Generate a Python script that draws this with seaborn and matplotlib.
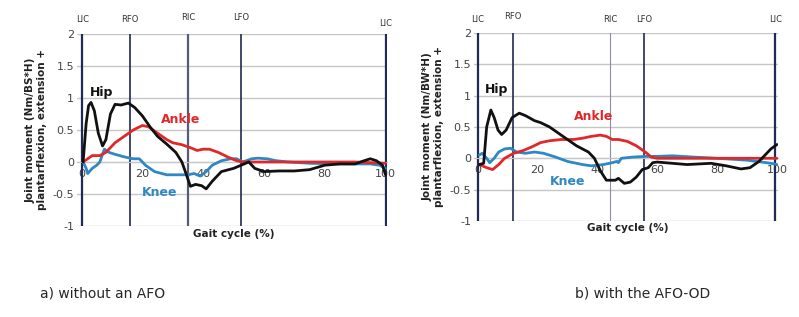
import numpy as np
import pandas as pd
import seaborn as sns
import matplotlib.pyplot as plt

sns.set_style("white")
plt.rcParams['font.family'] = ['DejaVu Sans']

# a) without an AFO
a_hip_x = [0.5, 1.5, 2.3, 3.1, 4.2, 5.5, 6.9, 8.0, 9.5, 11, 13, 15.4, 17.5, 20, 22.5, 25, 28, 31, 33, 34.5, 35.8, 37.5, 39.5, 41, 43, 46, 50, 52.5, 55, 57, 60, 65, 70, 75, 80, 85, 90, 93, 95, 97, 99, 100]
a_hip_y = [0.0, 0.6, 0.88, 0.93, 0.8, 0.45, 0.25, 0.35, 0.75, 0.9, 0.89, 0.92, 0.85, 0.72, 0.55, 0.4, 0.28, 0.15, 0.0, -0.2, -0.38, -0.35, -0.37, -0.42, -0.3, -0.15, -0.1, -0.05, 0.0, -0.1, -0.15, -0.14, -0.14, -0.12, -0.05, -0.03, -0.03, 0.02, 0.05, 0.02, -0.05, -0.2]
a_ankle_x = [0.5, 2, 3.5, 6, 8, 11, 14, 17, 20, 22, 25, 28, 30, 33, 36, 38, 40, 42, 45, 48, 51, 53, 60, 70, 80, 90, 100]
a_ankle_y = [0.0, 0.05, 0.1, 0.1, 0.15, 0.3, 0.4, 0.5, 0.57, 0.55, 0.45, 0.35, 0.3, 0.27, 0.22, 0.18, 0.2, 0.2, 0.15, 0.08, 0.02, 0.0, 0.0, 0.0, 0.0, 0.0, -0.02]
a_knee_x = [0.5, 1.5, 2, 3.5, 5, 6, 7.5, 9, 11, 14, 17, 19, 21, 24, 28, 32, 35, 37, 39, 41, 43, 46, 49, 51, 53, 56, 58, 61, 64, 68, 75, 85, 95, 98, 100]
a_knee_y = [0.0, -0.1, -0.18, -0.1, -0.05, 0.0, 0.2, 0.15, 0.12, 0.08, 0.05, 0.05, -0.05, -0.15, -0.2, -0.2, -0.2, -0.18, -0.22, -0.15, -0.05, 0.02, 0.05, 0.05, 0.0, 0.05, 0.06, 0.05, 0.02, 0.0, -0.02, -0.03, -0.03, -0.05, -0.1]

# b) with the AFO-OD
b_hip_x = [0.5, 2, 3, 4.4, 5.5, 6.8, 8, 9.5, 11.5, 13.9, 16, 19, 21, 24, 27, 30, 33, 37, 39, 41, 43, 46, 47, 49, 51, 53, 55, 57, 58.5, 60, 65, 70, 78, 83, 88, 91, 94, 96, 98, 100]
b_hip_y = [-0.1, -0.08, 0.5, 0.77, 0.65, 0.45, 0.38, 0.45, 0.65, 0.72, 0.68, 0.6, 0.57, 0.5, 0.4, 0.3, 0.2, 0.1, 0.0, -0.2, -0.35, -0.35, -0.32, -0.4, -0.38, -0.3, -0.18, -0.15, -0.07, -0.06, -0.08, -0.1, -0.08, -0.12, -0.17, -0.15, -0.05, 0.05, 0.15, 0.22]
b_ankle_x = [0.5, 3, 5, 7, 9, 12, 15, 18, 21, 24, 28, 32, 35, 38, 41, 43, 45, 47, 50, 53, 56, 58, 60, 70, 80, 90, 100]
b_ankle_y = [-0.1, -0.15, -0.18, -0.1, 0.0, 0.08, 0.12, 0.18, 0.25, 0.28, 0.3, 0.3, 0.32, 0.35, 0.37, 0.35, 0.3, 0.3, 0.27, 0.2, 0.1, 0.02, 0.0, 0.0, 0.0, 0.0, 0.0]
b_knee_x = [0.5, 1.5, 3, 4, 5.5, 7, 9, 11, 13, 16, 19, 22, 26, 30, 35, 38, 42, 45, 46.5, 47, 48, 52, 56, 60, 65, 72, 80, 90, 98, 100]
b_knee_y = [0.05, 0.08, 0.0, -0.07, 0.0, 0.1, 0.15, 0.16, 0.1, 0.08, 0.1, 0.08, 0.02, -0.05, -0.1, -0.12, -0.1, -0.07, -0.05, -0.07, 0.0, 0.02, 0.03, 0.03, 0.04, 0.02, 0.0, -0.03, -0.08, -0.1]

events = ["LIC", "RFO", "RIC", "LFO", "LIC"]
a_event_x = [0.3, 15.8, 35.0, 52.6, 100]
b_event_x = [0.0, 11.7, 44.3, 55.7, 99.5]
a_event_y = [2.23, 2.23, 2.26, 2.26, 2.16]
b_event_y = [2.22, 2.26, 2.22, 2.22, 2.22]

black, red, blue = "#111111", "#e0282a", "#2e88c4"
navy = "#1f2a55"

fig = plt.figure(figsize=(7.99, 3.17), dpi=100)
ax_a = fig.add_axes([0.0964, 0.287, 0.388, 0.606])
ax_b = fig.add_axes([0.593, 0.303, 0.3805, 0.593])

panels = [
    (ax_a, a_hip_x, a_hip_y, a_ankle_x, a_ankle_y, a_knee_x, a_knee_y, a_event_x, a_event_y,
     "Joint moment (Nm/BS*H)\nplantarflexion, extension +",
     [(6.6, 1.08), (32.6, 0.67), (25.7, -0.47)], (-1.5, 100.5)),
    (ax_b, b_hip_x, b_hip_y, b_ankle_x, b_ankle_y, b_knee_x, b_knee_y, b_event_x, b_event_y,
     "Joint moment (Nm/BW*H)\nplantarflexion, extension +",
     [(6.3, 1.1), (38.7, 0.66), (30, -0.37)], (-1.3, 100.3)),
]

for i, (ax, hx, hy, axx, ay, kx, ky, ev, evy, ylab, lab_pos, xl) in enumerate(panels):
    ax.set_xlim(*xl)
    ax.set_ylim(-1, 2)
    ax.set_yticks([-1, -0.5, 0, 0.5, 1, 1.5, 2])
    ax.set_yticklabels(["-1", "-0.5", "0", "0.5", "1", "1.5", "2"])
    ax.set_xticks([0, 20, 40, 60, 80, 100])
    ax.grid(axis="y", color="#c6c6c6", lw=1)
    ax.set_axisbelow(True)
    for s in ["top", "right", "left"]:
        ax.spines[s].set_visible(False)
    ax.spines["bottom"].set_position(("data", 0))
    ax.spines["bottom"].set_color("#c6c6c6")
    ax.tick_params(axis="both", labelsize=8, colors="#444444", length=0, pad=2)
    ax.tick_params(axis="x", pad=5)

    for j, x in enumerate(ev):
        if j == 2:
            c, w = ("#555c78", 1.6) if i == 0 else ("#8a90a0", 0.8)
        else:
            c, w = navy, 1.2
        if j in (0, 4):
            w = 1.6
        ax.axvline(x, color=c, lw=w, zorder=1)
        ax.text(x, evy[j], events[j], ha="center", va="center", fontsize=6, color="#333333",
                family="Liberation Sans Narrow", clip_on=False)

    sns.lineplot(x=kx, y=ky, ax=ax, color=blue, lw=2, sort=False, zorder=3)
    sns.lineplot(x=axx, y=ay, ax=ax, color=red, lw=2, sort=False, zorder=4)
    sns.lineplot(x=hx, y=hy, ax=ax, color=black, lw=2, sort=False, zorder=5)

    for (tx, ty), name, c in zip(lab_pos, ["Hip", "Ankle", "Knee"], [black, red, blue]):
        ax.text(tx, ty, name, color=c, fontsize=9, fontweight="bold", ha="center", va="center")

    ax.set_ylabel(ylab, fontsize=7.5, fontweight="bold", color="#222222", labelpad=4)
    ax.set_xlabel("")
    ax.text(50, -1.12, "Gait cycle (%)", ha="center", va="center", fontsize=7.5,
            fontweight="bold", color="#222222")

fig.text(0.05, 0.075, "a) without an AFO", fontsize=10, family="Liberation Sans Narrow", va="center")
fig.text(0.72, 0.075, "b) with the AFO-OD", fontsize=10, family="Liberation Sans Narrow", va="center")

fig.savefig("out.png", dpi=100, facecolor="white")
